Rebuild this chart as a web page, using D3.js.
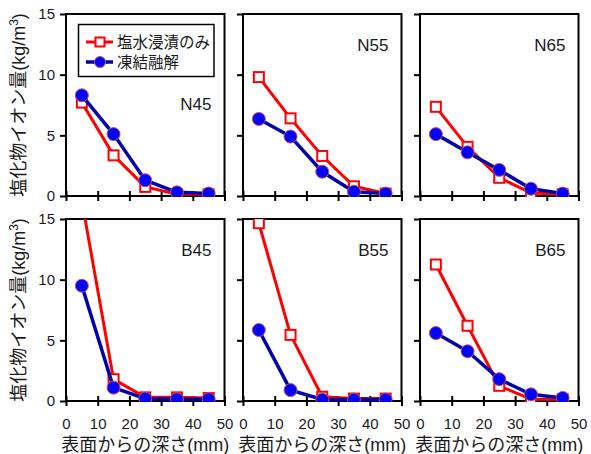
<!DOCTYPE html>
<html>
<head>
<meta charset="utf-8">
<script src="https://cdn.jsdelivr.net/npm/d3@7"></script>
<style>
  html, body { margin: 0; padding: 0; background: #fff; }
  svg { display: block; }
  text { font-family: "Liberation Sans", Arial, "Noto Sans CJK JP", sans-serif; fill: #1a1a1a; }
</style>
</head>
<body>
<svg id="chart" width="591" height="454"></svg>
<script>
// Chloride ion content versus depth from surface, six mixes
const depths = [5, 15, 25, 35, 45];
const panelNames = ["N45", "N55", "N65", "B45", "B55", "B65"];
const seriesNames = ["塩水浸漬のみ", "凍結融解"];
// immersion only (kg/m3)
const immersion = [
  [7.7, 3.35, 0.75, 0.15, 0.15],
  [9.8, 6.4, 3.3, 0.8, 0.2],
  [7.35, 4.05, 1.5, 0.25, 0.15],
  [16.5, 1.8, 0.3, 0.3, 0.25],
  [14.65, 5.45, 0.35, 0.2, 0.2],
  [11.25, 6.2, 1.25, 0.15, 0.15]
];
// freeze-thaw (kg/m3)
const freezeThaw = [
  [8.3, 5.1, 1.3, 0.3, 0.2],
  [6.35, 4.9, 2.0, 0.35, 0.2],
  [5.1, 3.6, 2.15, 0.6, 0.2],
  [9.5, 1.1, 0.2, 0.15, 0.15],
  [5.85, 0.9, 0.12, 0.12, 0.12],
  [5.6, 4.1, 1.8, 0.55, 0.25]
];
const yTicks = [0, 5, 10, 15];
const xTicks = [0, 10, 20, 30, 40, 50];
const yTitle = "塩化物イオン量(kg/m";
const xTitle = "表面からの深さ(mm)";

const svg = d3.select("#chart");
const colLeft = [66, 243, 420];
const rowTop = [14, 219];
const pw = 158.5, ph = 182;
const red = "#ff0000", navy = "#0000a8", blueFill = "#0000ff", dotStroke = "#c8505a";

const defs = svg.append("defs");

panelNames.forEach((name, i) => {
  const col = i % 3, row = Math.floor(i / 3);
  const x0 = colLeft[col], y0 = rowTop[row];
  const g = svg.append("g").attr("transform", `translate(${x0},${y0})`);
  const x = d3.scaleLinear().domain([0, 50]).range([0, pw]);
  const y = d3.scaleLinear().domain([0, 15]).range([ph, 0]);

  defs.append("clipPath").attr("id", "clip" + i)
    .append("rect").attr("x", -1).attr("y", 0).attr("width", pw + 2).attr("height", ph + 1);

  // y ticks (outward)
  const ya = g.append("g").call(d3.axisLeft(y).tickValues(yTicks).tickSize(6).tickPadding(5)
    .tickFormat(col === 0 ? d3.format("d") : () => ""));
  ya.select(".domain").remove();
  ya.selectAll("line").attr("stroke", "#000").attr("stroke-width", 2);
  ya.selectAll("text").style("font-size", "15px");

  // x ticks (crossing the axis)
  const xa = g.append("g").attr("transform", `translate(0,${ph})`)
    .call(d3.axisBottom(x).tickValues(xTicks).tickSize(5).tickPadding(12)
      .tickFormat(row === 1 ? d3.format("d") : () => ""));
  xa.select(".domain").remove();
  xa.selectAll("line").attr("y1", -5).attr("stroke", "#000").attr("stroke-width", 2);
  xa.selectAll("text").style("font-size", "15px");

  // frame
  g.append("rect").attr("x", 0).attr("y", 0).attr("width", pw).attr("height", ph)
    .attr("fill", "none").attr("stroke", "#000").attr("stroke-width", 2);

  const plot = g.append("g").attr("clip-path", `url(#clip${i})`);
  const line = d3.line().x((d, k) => x(depths[k])).y(d => y(d));

  // immersion only
  plot.append("path").datum(immersion[i]).attr("d", line)
    .attr("fill", "none").attr("stroke", red).attr("stroke-width", 3).attr("stroke-linejoin", "round");
  plot.selectAll(".sq").data(immersion[i]).enter().append("rect")
    .attr("x", (d, k) => x(depths[k]) - 5).attr("y", d => y(d) - 5)
    .attr("width", 10).attr("height", 10)
    .attr("fill", "#fff").attr("stroke", red).attr("stroke-width", 2);

  // freeze-thaw
  plot.append("path").datum(freezeThaw[i]).attr("d", line)
    .attr("fill", "none").attr("stroke", navy).attr("stroke-width", 3.5).attr("stroke-linejoin", "round");
  plot.selectAll(".dot").data(freezeThaw[i]).enter().append("circle")
    .attr("cx", (d, k) => x(depths[k])).attr("cy", d => y(d)).attr("r", 6.5)
    .attr("fill", blueFill).attr("stroke", dotStroke).attr("stroke-width", 1);

  // panel name
  const labelY = (i === 0) ? 96 : 37;
  g.append("text").attr("x", pw - 13).attr("y", labelY).attr("text-anchor", "end")
    .style("font-size", "17px").text(name);

  // x title under bottom row
  if (row === 1) {
    svg.append("text").attr("x", x0 + pw / 2).attr("y", 451).attr("text-anchor", "middle")
      .style("font-size", "18px").text(xTitle);
  }
});

// y titles, one per row
rowTop.forEach(t => {
  const cy = t + ph / 2;
  const txt = svg.append("text")
    .attr("transform", `translate(25,${cy}) rotate(-90)`)
    .attr("text-anchor", "middle").style("font-size", "18px");
  txt.append("tspan").text(yTitle);
  txt.append("tspan").attr("dy", -7).style("font-size", "12px").text("3");
  txt.append("tspan").attr("dy", 7).text(")");
});

// legend
const lg = svg.append("g");
lg.append("rect").attr("x", 78.5).attr("y", 24.5).attr("width", 135.5).attr("height", 52)
  .attr("fill", "#fff").attr("stroke", "#000").attr("stroke-width", 1.5);
const rows = [42, 62];
seriesNames.forEach((s, k) => {
  const yy = rows[k];
  lg.append("line").attr("x1", 86).attr("x2", 113).attr("y1", yy).attr("y2", yy)
    .attr("stroke", k === 0 ? red : navy).attr("stroke-width", k === 0 ? 3 : 3.5);
  if (k === 0) {
    lg.append("rect").attr("x", 95.5).attr("y", yy - 4.5).attr("width", 9).attr("height", 9)
      .attr("fill", "#fff").attr("stroke", red).attr("stroke-width", 2);
  } else {
    lg.append("circle").attr("cx", 100).attr("cy", yy).attr("r", 5.5)
      .attr("fill", blueFill).attr("stroke", dotStroke).attr("stroke-width", 1);
  }
  lg.append("text").attr("x", 117).attr("y", yy).attr("dy", "0.36em")
    .style("font-size", "15.5px").text(s);
});
</script>
</body>
</html>
